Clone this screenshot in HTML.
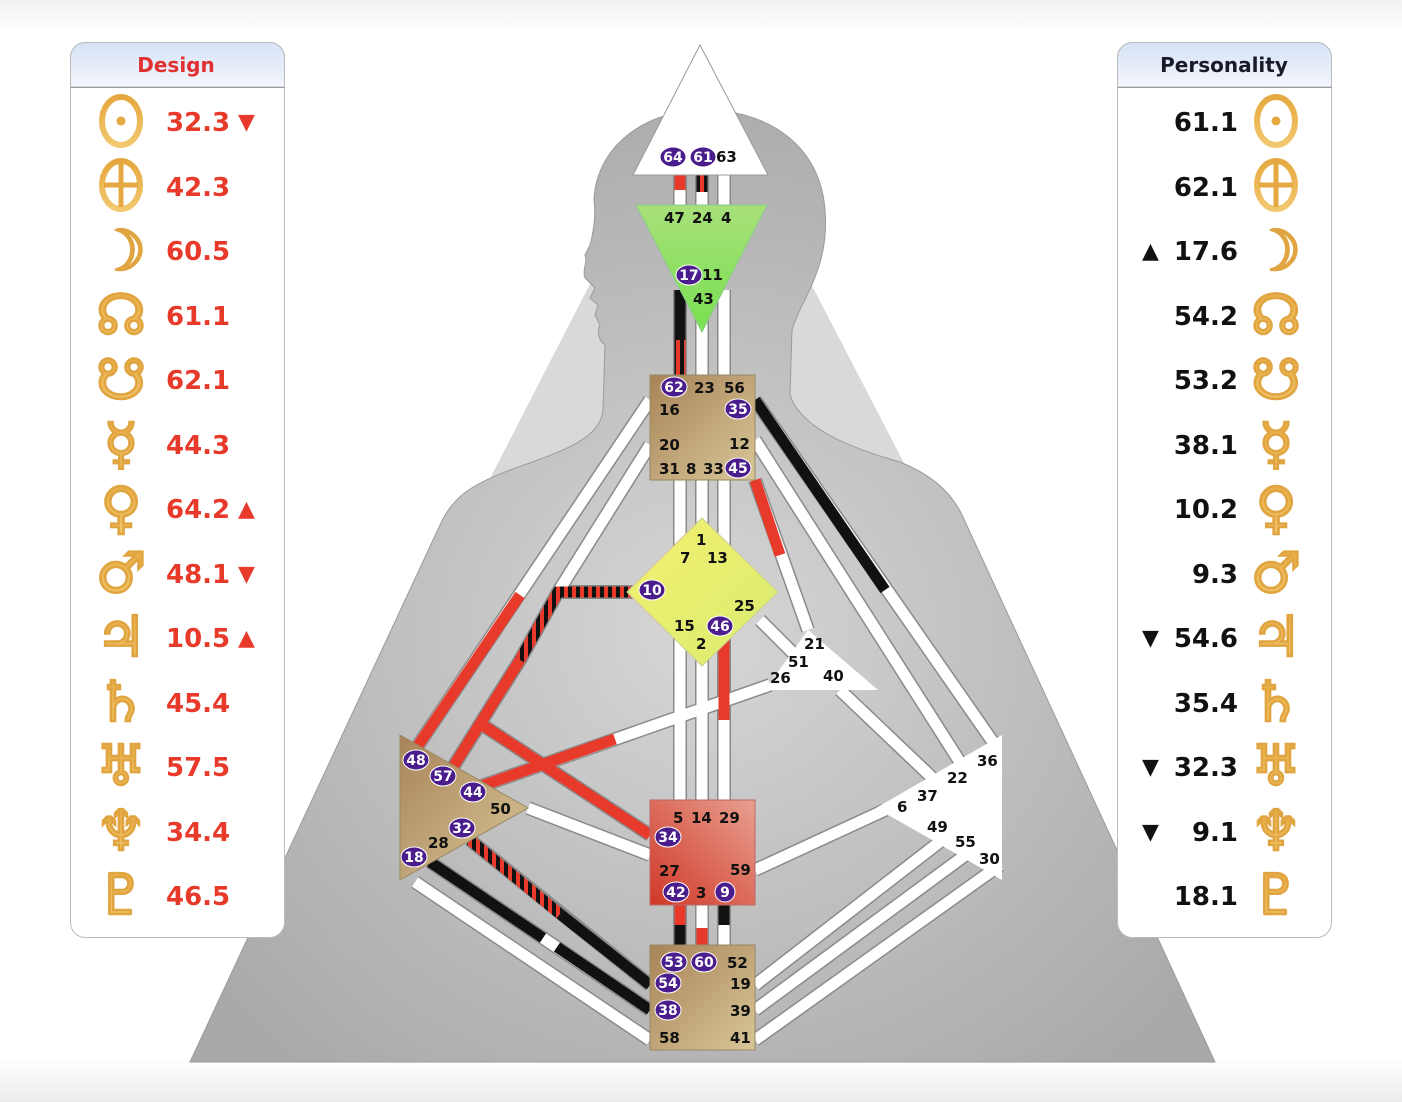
<!DOCTYPE html>
<html><head><meta charset="utf-8"><style>
html,body{margin:0;padding:0;background:#fff;}
svg{display:block;}
.n{font-family:"DejaVu Sans","Liberation Sans",sans-serif;font-weight:bold;font-size:26px;}
.g{font-family:"DejaVu Sans","Liberation Sans",sans-serif;font-weight:bold;font-size:15px;fill:#111;}
.gw{font-family:"DejaVu Sans","Liberation Sans",sans-serif;font-weight:bold;font-size:14px;fill:#fff;}
.sym{font-family:"DejaVu Sans",sans-serif;font-size:56px;font-weight:bold;fill:url(#gold);stroke:#e0a440;stroke-width:2.5;}
</style></head><body>
<svg width="1402" height="1102" viewBox="0 0 1402 1102" xmlns="http://www.w3.org/2000/svg">
<defs>
<linearGradient id="bgv" x1="0" y1="0" x2="0" y2="1">
<stop offset="0" stop-color="#f2f2f2"/><stop offset="0.03" stop-color="#fff"/><stop offset="0.96" stop-color="#fff"/><stop offset="1" stop-color="#ececec"/></linearGradient>
<linearGradient id="hdr" x1="0" y1="0" x2="0" y2="1"><stop offset="0" stop-color="#d6e2f6"/><stop offset="1" stop-color="#f3f6fc"/></linearGradient>
<linearGradient id="gold" x1="0" y1="0" x2="0" y2="1"><stop offset="0" stop-color="#e6a840"/><stop offset="1" stop-color="#f2c86e"/></linearGradient>
<radialGradient id="body" cx="0.5" cy="0.55" r="0.6"><stop offset="0" stop-color="#d6d6d6"/><stop offset="1" stop-color="#a9a9a9"/></radialGradient>
<linearGradient id="brown" x1="0" y1="0" x2="1" y2="1"><stop offset="0" stop-color="#a88458"/><stop offset="1" stop-color="#d8c698"/></linearGradient>
<linearGradient id="green" x1="0" y1="0" x2="0" y2="1"><stop offset="0" stop-color="#a8e07a"/><stop offset="1" stop-color="#78e050"/></linearGradient>
<linearGradient id="yel" x1="0" y1="0" x2="1" y2="1"><stop offset="0" stop-color="#f4f070"/><stop offset="1" stop-color="#d8ec70"/></linearGradient>
<linearGradient id="red" x1="1" y1="0" x2="0" y2="1"><stop offset="0" stop-color="#e8a090"/><stop offset="1" stop-color="#d03828"/></linearGradient>
<pattern id="stripe" width="8" height="8" patternUnits="userSpaceOnUse"><rect width="8" height="8" fill="#e83a2a"/><rect width="4" height="8" fill="#111"/></pattern>
<g id="sun"><ellipse cx="0" cy="0" rx="19" ry="24" fill="none" stroke="url(#gold)" stroke-width="6"/><circle r="4.5" fill="#e6a840"/></g>
<g id="earth"><ellipse cx="0" cy="0" rx="19" ry="24" fill="none" stroke="url(#gold)" stroke-width="6"/><path d="M0,-22V22M-17,0H17" stroke="#e6a840" stroke-width="5"/></g>
</defs>
<rect width="1402" height="1102" fill="url(#bgv)"/>

<!-- light triangle -->
<polygon points="190,1062 1215,1062 700,70" fill="#d9d9d9"/>
<!-- head + body silhouette -->
<path d="M700,110 C760,108 820,140 825,210 C830,270 800,300 792,330 L790,395 C800,425 840,445 900,462 C940,478 955,500 962,515 L1215,1062 L190,1062 L440,525 C452,498 470,485 510,470 C560,452 600,440 603,410 L605,345 C598,340 597,332 600,325 L595,315 L598,305 L590,298 L595,288 L585,278 C582,270 588,262 585,255 L590,245 C594,230 596,215 594,200 C596,150 640,112 700,110 Z" fill="url(#body)" stroke="#9a9a9a" stroke-width="1"/>

<!-- channels -->
<g stroke-linecap="butt" fill="none">
<g stroke="#8a8a8a" stroke-width="14">
<path d="M680,175V205M702,175V205M724,175V205"/>
<path d="M680,290V375M702,290V375M724,290V375"/>
<path d="M680,480V800M702,480V800M724,480V800"/>
<path d="M680,905V945M702,905V945M724,905V945"/>
<path d="M650,400L415,750"/>
<path d="M650,445L558,592 L520,660 L448,775"/>
<path d="M635,592H558"/>
<path d="M478,722L650,835"/>
<path d="M470,790L770,685"/>
<path d="M528,808L650,855"/>
<path d="M470,840L650,985"/>
<path d="M430,862L650,1010"/>
<path d="M415,882L650,1040"/>
<path d="M755,400L995,745"/>
<path d="M755,440L965,770"/>
<path d="M755,480L808,630"/>
<path d="M760,620L800,660"/>
<path d="M840,690L945,790"/>
<path d="M755,870L885,810"/>
<path d="M755,985L955,830M755,1010L975,848M755,1040L1000,865"/>
</g>
<g stroke="#fff" stroke-width="11">
<path d="M680,175V205M702,175V205M724,175V205"/>
<path d="M680,290V375M702,290V375M724,290V375"/>
<path d="M680,480V800M702,480V800M724,480V800"/>
<path d="M680,905V945M702,905V945M724,905V945"/>
<path d="M650,400L415,750"/>
<path d="M650,445L558,592"/>
<path d="M755,400L995,745"/>
<path d="M755,440L965,770"/>
<path d="M755,480L808,630"/>
<path d="M760,620L800,660"/>
<path d="M840,690L945,790"/>
<path d="M755,870L885,810"/>
<path d="M755,985L955,830M755,1010L975,848M755,1040L1000,865"/>
<path d="M528,808L650,855"/>
<path d="M470,790L770,685"/>
<path d="M415,882L650,1040"/>
<path d="M430,862L650,1010"/>
</g>
<g stroke-width="11">
<path d="M680,175V190" stroke="#e83a2a"/>
<path d="M702,175V192" stroke="url(#stripe)"/>
<path d="M680,290V340" stroke="#111"/>
<path d="M680,340V375" stroke="url(#stripe)"/>
<path d="M724,640V720" stroke="#e83a2a"/>
<path d="M680,905V925" stroke="#e83a2a"/>
<path d="M680,925V945" stroke="#111"/>
<path d="M702,928V945" stroke="#e83a2a"/>
<path d="M724,905V925" stroke="#111"/>
<path d="M520,595L415,750" stroke="#e83a2a"/>
<path d="M635,592H558 L520,660" stroke="url(#stripe)"/>
<path d="M520,660L448,775" stroke="#e83a2a"/>
<path d="M478,722L650,835" stroke="#e83a2a"/>
<path d="M470,790L615,739" stroke="#e83a2a"/>
<path d="M470,840L560,914" stroke="url(#stripe)"/>
<path d="M560,914L650,985" stroke="#111"/>
<path d="M430,862L543,938" stroke="#111"/>
<path d="M557,947L650,1010" stroke="#111"/>
<path d="M755,400L885,590" stroke="#111"/>
<path d="M755,480L780,555" stroke="#e83a2a"/>
</g>
</g>

<!-- centers -->
<polygon points="700,45 768,175 633,175" fill="#fff" stroke="#999" stroke-width="1"/>
<polygon points="636,205 767,205 702,332" fill="url(#green)" stroke="#8c8" stroke-width="1"/>
<rect x="650" y="375" width="105" height="105" fill="url(#brown)" stroke="#998866"/>
<polygon points="702,518 778,592 702,666 627,592" fill="url(#yel)" stroke="#cc9" stroke-width="1"/>
<polygon points="808,630 878,690 765,690" fill="#fff"/>
<polygon points="400,735 528,808 400,880" fill="url(#brown)" stroke="#998866"/>
<rect x="650" y="800" width="105" height="105" fill="url(#red)" stroke="#b66"/>
<polygon points="1002,735 1002,880 876,808" fill="#fff"/>
<rect x="650" y="945" width="105" height="105" fill="url(#brown)" stroke="#998866"/>

<!-- gate labels -->
<g>
<ellipse cx="673" cy="157" rx="13" ry="10" fill="#4a1c8c" stroke="#fff"/><text x="673" y="162" class="gw" text-anchor="middle">64</text>
<ellipse cx="703" cy="157" rx="13" ry="10" fill="#4a1c8c" stroke="#fff"/><text x="703" y="162" class="gw" text-anchor="middle">61</text>
<text x="716" y="162" class="g" font-size="14">63</text>
<text x="664" y="223" class="g">47</text><text x="692" y="223" class="g">24</text><text x="721" y="223" class="g">4</text>
<ellipse cx="689" cy="275" rx="13" ry="10" fill="#4a1c8c" stroke="#fff"/><text x="689" y="280" class="gw" text-anchor="middle">17</text>
<text x="702" y="280" class="g">11</text><text x="693" y="304" class="g">43</text>

<ellipse cx="674" cy="387" rx="13" ry="10" fill="#4a1c8c" stroke="#fff"/><text x="674" y="392" class="gw" text-anchor="middle">62</text>
<text x="694" y="393" class="g">23</text><text x="724" y="393" class="g">56</text>
<text x="659" y="415" class="g">16</text>
<ellipse cx="738" cy="409" rx="13" ry="10" fill="#4a1c8c" stroke="#fff"/><text x="738" y="414" class="gw" text-anchor="middle">35</text>
<text x="659" y="450" class="g">20</text><text x="729" y="449" class="g">12</text>
<text x="659" y="474" class="g">31</text><text x="686" y="474" class="g">8</text><text x="703" y="474" class="g">33</text>
<ellipse cx="738" cy="468" rx="13" ry="10" fill="#4a1c8c" stroke="#fff"/><text x="738" y="473" class="gw" text-anchor="middle">45</text>

<text x="696" y="545" class="g">1</text><text x="680" y="563" class="g">7</text><text x="707" y="563" class="g">13</text>
<ellipse cx="652" cy="590" rx="13" ry="10" fill="#4a1c8c" stroke="#fff"/><text x="652" y="595" class="gw" text-anchor="middle">10</text>
<text x="734" y="611" class="g">25</text>
<text x="674" y="631" class="g">15</text>
<ellipse cx="720" cy="626" rx="13" ry="10" fill="#4a1c8c" stroke="#fff"/><text x="720" y="631" class="gw" text-anchor="middle">46</text>
<text x="696" y="649" class="g">2</text>

<text x="804" y="649" class="g">21</text><text x="788" y="667" class="g">51</text><text x="770" y="683" class="g">26</text><text x="823" y="681" class="g">40</text>

<ellipse cx="416" cy="760" rx="13" ry="10" fill="#4a1c8c" stroke="#fff"/><text x="416" y="765" class="gw" text-anchor="middle">48</text>
<ellipse cx="443" cy="776" rx="13" ry="10" fill="#4a1c8c" stroke="#fff"/><text x="443" y="781" class="gw" text-anchor="middle">57</text>
<ellipse cx="473" cy="792" rx="13" ry="10" fill="#4a1c8c" stroke="#fff"/><text x="473" y="797" class="gw" text-anchor="middle">44</text>
<text x="490" y="814" class="g">50</text>
<ellipse cx="462" cy="828" rx="13" ry="10" fill="#4a1c8c" stroke="#fff"/><text x="462" y="833" class="gw" text-anchor="middle">32</text>
<text x="428" y="848" class="g">28</text>
<ellipse cx="414" cy="857" rx="13" ry="10" fill="#4a1c8c" stroke="#fff"/><text x="414" y="862" class="gw" text-anchor="middle">18</text>

<text x="673" y="823" class="g">5</text><text x="691" y="823" class="g">14</text><text x="719" y="823" class="g">29</text>
<ellipse cx="668" cy="837" rx="13" ry="10" fill="#4a1c8c" stroke="#fff"/><text x="668" y="842" class="gw" text-anchor="middle">34</text>
<text x="659" y="876" class="g">27</text><text x="730" y="875" class="g">59</text>
<ellipse cx="676" cy="892" rx="13" ry="10" fill="#4a1c8c" stroke="#fff"/><text x="676" y="897" class="gw" text-anchor="middle">42</text>
<text x="696" y="898" class="g">3</text>
<ellipse cx="725" cy="892" rx="10" ry="10" fill="#4a1c8c" stroke="#fff"/><text x="725" y="897" class="gw" text-anchor="middle">9</text>

<text x="977" y="766" class="g">36</text><text x="947" y="783" class="g">22</text><text x="917" y="801" class="g">37</text><text x="897" y="812" class="g">6</text>
<text x="927" y="832" class="g">49</text><text x="955" y="847" class="g">55</text><text x="979" y="864" class="g">30</text>

<ellipse cx="674" cy="962" rx="13" ry="10" fill="#4a1c8c" stroke="#fff"/><text x="674" y="967" class="gw" text-anchor="middle">53</text>
<ellipse cx="704" cy="962" rx="13" ry="10" fill="#4a1c8c" stroke="#fff"/><text x="704" y="967" class="gw" text-anchor="middle">60</text>
<text x="727" y="968" class="g">52</text>
<ellipse cx="668" cy="983" rx="13" ry="10" fill="#4a1c8c" stroke="#fff"/><text x="668" y="988" class="gw" text-anchor="middle">54</text>
<text x="730" y="989" class="g">19</text>
<ellipse cx="668" cy="1010" rx="13" ry="10" fill="#4a1c8c" stroke="#fff"/><text x="668" y="1015" class="gw" text-anchor="middle">38</text>
<text x="730" y="1016" class="g">39</text>
<text x="659" y="1043" class="g">58</text><text x="730" y="1043" class="g">41</text>
</g>

<!-- Left panel -->
<rect x="70.5" y="42.5" width="214" height="895" rx="15" fill="#fff" stroke="#bbb"/>
<path d="M70.5,87 V57.5 a15,15 0 0 1 15,-15 H269.5 a15,15 0 0 1 15,15 V87 Z" fill="url(#hdr)" stroke="#bbb"/>
<line x1="70.5" y1="87.5" x2="284.5" y2="87.5" stroke="#999"/>
<text x="176" y="72" text-anchor="middle" font-family="DejaVu Sans,sans-serif" font-weight="bold" font-size="20" fill="#e03030">Design</text>
<g class="n" fill="#e83a2a">
<text x="166" y="131">32.3</text><text x="166" y="196">42.3</text><text x="166" y="260">60.5</text><text x="166" y="325">61.1</text>
<text x="166" y="389">62.1</text><text x="166" y="454">44.3</text><text x="166" y="518">64.2</text><text x="166" y="583">48.1</text>
<text x="166" y="647">10.5</text><text x="166" y="712">45.4</text><text x="166" y="776">57.5</text><text x="166" y="841">34.4</text><text x="166" y="905">46.5</text>
</g>
<g fill="#e83a2a" font-family="DejaVu Sans,sans-serif" font-size="22">
<text x="238" y="129">▼</text><text x="238" y="516">▲</text><text x="238" y="581">▼</text><text x="238" y="645">▲</text>
</g>
<use href="#sun" x="121" y="121"/><use href="#earth" x="121" y="185"/>
<g class="sym" text-anchor="middle">
<text x="121" y="270">☽</text><text x="121" y="334">☊</text>
<text x="121" y="399">☋</text><text x="121" y="463">☿</text><text x="121" y="527">♀</text><text x="121" y="592">♂</text>
<text x="121" y="656">♃</text><text x="121" y="721">♄</text><text x="121" y="785">♅</text><text x="121" y="850">♆</text><text x="121" y="914">♇</text>
</g>

<!-- Right panel -->
<rect x="1117.5" y="42.5" width="214" height="895" rx="15" fill="#fff" stroke="#bbb"/>
<path d="M1117.5,87 V57.5 a15,15 0 0 1 15,-15 H1316.5 a15,15 0 0 1 15,15 V87 Z" fill="url(#hdr)" stroke="#bbb"/>
<line x1="1117.5" y1="87.5" x2="1331.5" y2="87.5" stroke="#999"/>
<text x="1224" y="72" text-anchor="middle" font-family="DejaVu Sans,sans-serif" font-weight="bold" font-size="20" fill="#1a1a2a">Personality</text>
<g class="n" fill="#111" text-anchor="end">
<text x="1238" y="131">61.1</text><text x="1238" y="196">62.1</text><text x="1238" y="260">17.6</text><text x="1238" y="325">54.2</text>
<text x="1238" y="389">53.2</text><text x="1238" y="454">38.1</text><text x="1238" y="518">10.2</text><text x="1238" y="583">9.3</text>
<text x="1238" y="647">54.6</text><text x="1238" y="712">35.4</text><text x="1238" y="776">32.3</text><text x="1238" y="841">9.1</text><text x="1238" y="905">18.1</text>
</g>
<g fill="#111" font-family="DejaVu Sans,sans-serif" font-size="22">
<text x="1142" y="258">▲</text><text x="1142" y="645">▼</text><text x="1142" y="774">▼</text><text x="1142" y="839">▼</text>
</g>
<use href="#sun" x="1276" y="121"/><use href="#earth" x="1276" y="185"/>
<g class="sym" text-anchor="middle">
<text x="1276" y="270">☽</text><text x="1276" y="334">☊</text>
<text x="1276" y="399">☋</text><text x="1276" y="463">☿</text><text x="1276" y="527">♀</text><text x="1276" y="592">♂</text>
<text x="1276" y="656">♃</text><text x="1276" y="721">♄</text><text x="1276" y="785">♅</text><text x="1276" y="850">♆</text><text x="1276" y="914">♇</text>
</g>
</svg>
</body></html>
